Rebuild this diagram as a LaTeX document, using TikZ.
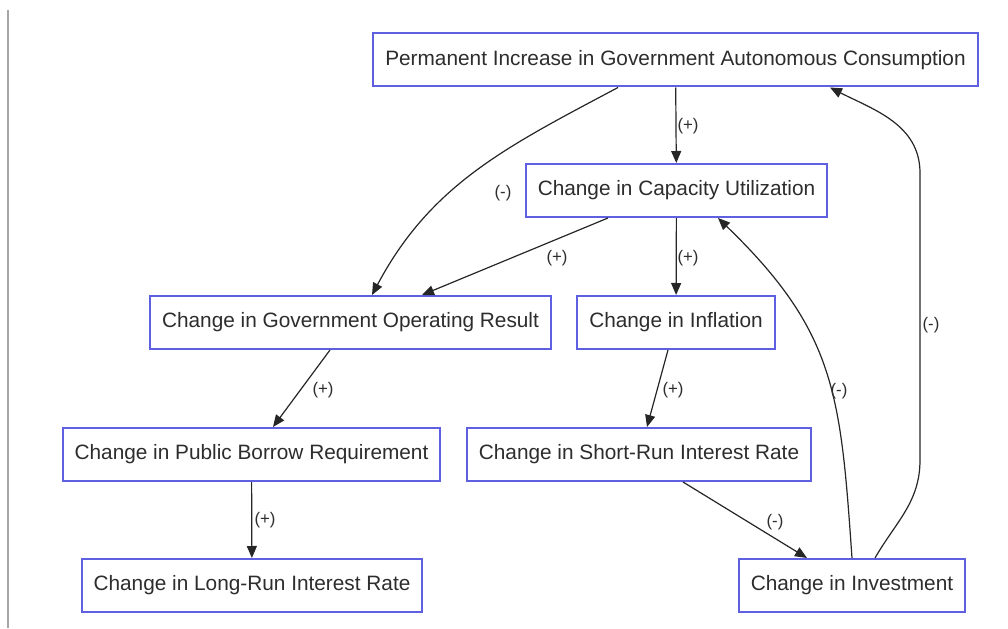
\documentclass[tikz,border=0pt]{standalone}
\usepackage{fontspec}
\setmainfont{Liberation Sans}
\usetikzlibrary{arrows.meta,calc}
\definecolor{boxblue}{RGB}{95,95,225}
\definecolor{txtgray}{RGB}{45,45,45}
\tikzset{
  factor/.style={draw=boxblue, line width=1pt, fill=white, text=txtgray,
    minimum height=26.5pt, inner xsep=6pt, font=\fontsize{10.4}{12}\selectfont},
  link/.style={-{Triangle[length=6pt,width=5pt]}, line width=0.6pt, draw=black!85},
  sign/.style={font=\fontsize{8.4}{9}\selectfont, text=txtgray, inner sep=1pt}
}
\begin{document}
\begin{tikzpicture}[x=0.5pt,y=0.5pt]
\useasboundingbox (0,0) rectangle (1008,628);
\draw[black!35, line width=1pt] (8,0)--(8,618);
\node[factor] (perm) at (675.5,568) {Permanent Increase in Government Autonomous Consumption};
\node[factor] (cap) at (676.5,437.5) {Change in Capacity Utilization};
\node[factor] (gor) at (350.5,305.5) {Change in Government Operating Result};
\node[factor] (inf) at (676,305.5) {Change in Inflation};
\node[factor] (pbr) at (251.5,173.5) {Change in Public Borrow Requirement};
\node[factor] (sri) at (639,173.5) {Change in Short-Run Interest Rate};
\node[factor] (lri) at (252,42.5) {Change in Long-Run Interest Rate};
\node[factor] (inv) at (852,42.5) {Change in Investment};
\coordinate (rb) at (920,168);
\coordinate (rt) at (920,455);
\draw[link] (perm) -- (cap);
\draw[link] ($(perm.south)+(-57.5,0)$) to[out=208,in=62] ($(gor.north)+(21.5,0)$);
\draw[link] ($(cap.south)+(-68.5,0)$) -- ($(gor.north)+(71.5,0)$);
\draw[link] (cap) -- (inf);
\draw[link] ($(gor.south)+(-20.5,0)$) -- ($(pbr.north)+(21.5,0)$);
\draw[link] ($(inf.south)+(-8,0)$) -- ($(sri.north)+(8,0)$);
\draw[link] (pbr) -- (lri);
\draw[link] ($(sri.south)+(44,0)$) -- ($(inv.north)+(-45,0)$);
\draw[link] (inv.north) to[out=94,in=-44,looseness=1.15] ($(cap.south)+(41.5,0)$);
\draw[link] ($(inv.north)+(23,0)$) to[out=60,in=-90] (rb) -- (rt) to[out=90,in=-27] ($(perm.south)+(154.5,0)$);
\node[sign] (s1) at (688,502) {(+)};
\node[sign] (s2) at (503,435) {(-)};
\node[sign] (s3) at (557,370) {(+)};
\node[sign] (s4) at (688,370) {(+)};
\node[sign] (s5) at (323,238) {(+)};
\node[sign] (s6) at (673,238) {(+)};
\node[sign] (s7) at (265,108) {(+)};
\node[sign] (s8) at (775,106) {(-)};
\node[sign] (s9) at (839,237) {(-)};
\node[sign] (s10) at (931,303) {(-)};
\end{tikzpicture}
\end{document}
